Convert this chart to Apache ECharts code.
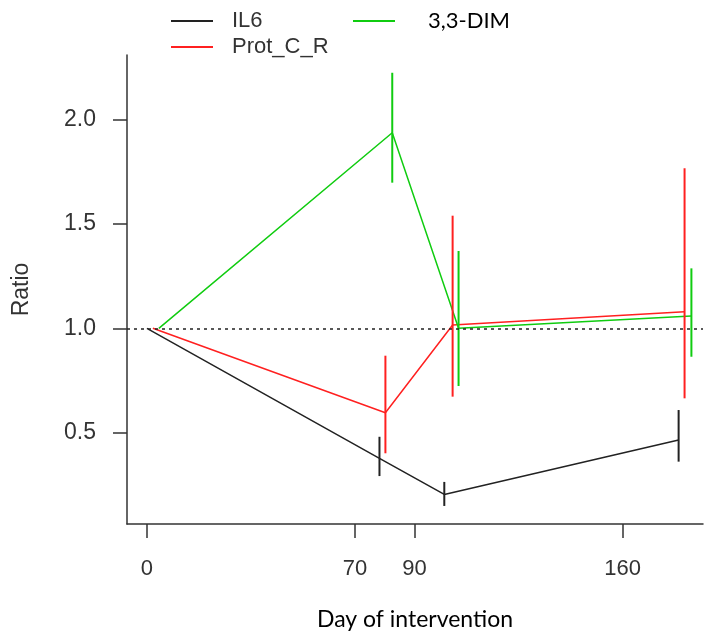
<!DOCTYPE html>
<html>
<head>
<meta charset="utf-8">
<script src="https://cdn.jsdelivr.net/npm/echarts@6/dist/echarts.min.js"></script>
<style>html,body{margin:0;padding:0;background:#fff}#c{width:704px;height:640px}</style>
</head>
<body>
<div id="c"></div>
<script>
const xTicks = [0, 70, 90, 160];
const yTicks = [0.5, 1.0, 1.5, 2.0];

const il6Days  = [0, 78.2, 100.0, 178.8];
const il6Ratio = [1.0, 0.378, 0.205, 0.466];
const il6Low   = [null, 0.293, 0.15, 0.362];
const il6High  = [null, 0.481, 0.265, 0.609];

const protDays  = [2.0, 80.2, 102.8, 180.8];
const protRatio = [1.0, 0.596, 1.016, 1.079];
const protLow   = [null, 0.402, 0.673, 0.665];
const protHigh  = [null, 0.869, 1.539, 1.766];

const dimDays  = [4.0, 82.5, 104.8, 183.1];
const dimRatio = [1.0, 1.936, 1.0, 1.059];
const dimLow   = [null, 1.697, 0.724, 0.864];
const dimHigh  = [null, 2.223, 1.37, 1.287];

const seriesNames = ['IL6', 'Prot_C_R', '3,3-DIM'];
const colors = ['#222222', '#ff2020', '#10cc10'];

function pts(d, v) { return d.map((x, i) => [x, v[i]]); }
function bars(d, lo, hi) {
  const out = [];
  d.forEach((x, i) => { if (lo[i] != null) out.push([x, lo[i], hi[i]]); });
  return out;
}

const lineData = [pts(il6Days, il6Ratio), pts(protDays, protRatio), pts(dimDays, dimRatio)];
const barData = [bars(il6Days, il6Low, il6High), bars(protDays, protLow, protHigh), bars(dimDays, dimLow, dimHigh)];

const chart = echarts.init(document.getElementById('c'), null, {renderer: 'canvas'});

const series = [];
seriesNames.forEach((name, k) => {
  series.push({
    name: name, type: 'line', data: lineData[k], symbol: 'none',
    lineStyle: {color: colors[k], width: 1.5}, itemStyle: {color: colors[k]},
    z: 3, animation: false,
    markLine: k === 0 ? {
      silent: true, symbol: 'none', label: {show: false},
      lineStyle: {color: '#222', type: [3, 4], width: 1.5},
      data: [{yAxis: 1.0}]
    } : undefined
  });
  series.push({
    name: name, type: 'custom', data: barData[k], z: 4, animation: false,
    encode: {x: 0, y: [1, 2]},
    renderItem: function (params, api) {
      const x = api.value(0);
      const a = api.coord([x, api.value(1)]);
      const b = api.coord([x, api.value(2)]);
      return {type: 'line', shape: {x1: a[0], y1: a[1], x2: b[0], y2: b[1]},
              style: {stroke: colors[k], lineWidth: 2}};
    }
  });
});

const legendBase = {
  orient: 'horizontal', icon: 'rect', itemWidth: 42, itemHeight: 2,
  selectedMode: false, padding: 0
};

chart.setOption({
  animation: false,
  backgroundColor: '#fff',
  grid: {left: 127, right: 1, top: 55, bottom: 116, containLabel: false},
  legend: [
    Object.assign({}, legendBase, {data: ['IL6'], left: 171, top: 10,
      textStyle: {fontFamily: 'Liberation Sans', fontSize: 22, color: '#333', padding: [0, 0, 0, 14]}}),
    Object.assign({}, legendBase, {data: ['Prot_C_R'], left: 171, top: 36,
      textStyle: {fontFamily: 'Liberation Sans', fontSize: 22, color: '#333', padding: [0, 0, 0, 14]}}),
    Object.assign({}, legendBase, {data: ['3,3-DIM'], left: 353, top: 10,
      textStyle: {fontFamily: 'Lato', fontSize: 22, color: '#000', padding: [0, 0, 0, 28]}})
  ],
  xAxis: {
    type: 'value', min: -6.7, max: 187,
    name: 'Day of intervention', nameLocation: 'middle', nameGap: 84,
    nameTextStyle: {fontFamily: 'Lato', fontSize: 23, color: '#000'},
    axisLine: {show: true, onZero: false, lineStyle: {color: '#333', width: 1.5}},
    axisTick: {show: true, length: 14, customValues: xTicks, lineStyle: {color: '#333', width: 1.5}},
    axisLabel: {customValues: xTicks, margin: 34, fontFamily: 'Liberation Sans', fontSize: 22, color: '#333'},
    splitLine: {show: false}
  },
  yAxis: {
    type: 'value', min: 0.0636, max: 2.308,
    name: 'Ratio', nameLocation: 'middle', nameGap: 94, nameRotate: 90,
    nameTextStyle: {fontFamily: 'Liberation Sans', fontSize: 23, color: '#333'},
    axisLine: {show: true, onZero: false, lineStyle: {color: '#333', width: 1.5}},
    axisTick: {show: true, length: 14, customValues: yTicks, lineStyle: {color: '#333', width: 1.5}},
    axisLabel: {customValues: yTicks, margin: 31, fontFamily: 'Liberation Sans', fontSize: 23, color: '#333',
      formatter: v => v.toFixed(1)},
    splitLine: {show: false}
  },
  series: series
});
</script>
</body>
</html>
